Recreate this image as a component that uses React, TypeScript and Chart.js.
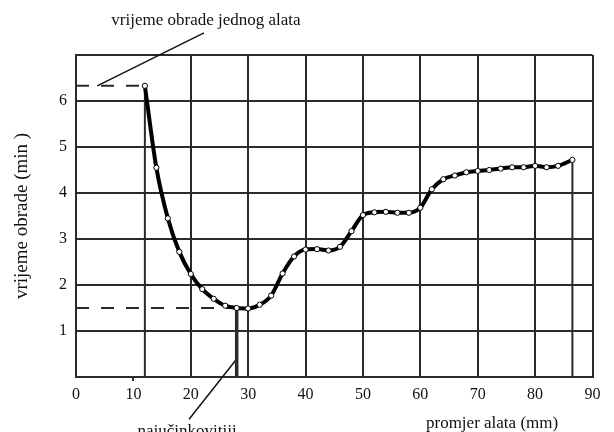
import React, { useEffect, useRef } from "react";
import { Chart, registerables } from "chart.js";

Chart.register(...registerables);

// Tool diameter (mm) and machining time (min)
const diameters = [12, 14, 16, 18, 20, 22, 24, 26, 28, 30, 32, 34, 36, 38, 40, 42, 44, 46, 48, 50, 52, 54, 56, 58, 60, 62, 64, 66, 68, 70, 72, 74, 76, 78, 80, 82, 84, 86.5];
const times = [6.33, 4.55, 3.45, 2.72, 2.24, 1.91, 1.7, 1.55, 1.5, 1.49, 1.57, 1.77, 2.25, 2.62, 2.77, 2.78, 2.75, 2.83, 3.17, 3.52, 3.58, 3.59, 3.57, 3.57, 3.68, 4.08, 4.3, 4.38, 4.45, 4.48, 4.5, 4.53, 4.56, 4.56, 4.59, 4.56, 4.59, 4.72];

const xTicks = [0, 10, 20, 30, 40, 50, 60, 70, 80, 90];
const yTicks = [0, 1, 2, 3, 4, 5, 6, 7];
const optimumIndex = 8;

// leader lines for the two annotations (in axis units)
const topLeaderX = [3.7, 22.3];
const topLeaderY = [6.33, 7.48];
const bottomLeaderX = [28, 19.7];
const bottomLeaderY = [0.39, -0.92];

const yTitle = "vrijeme obrade (min )";
const xTitle = "promjer alata (mm)";
const topNote = "vrijeme obrade jednog alata";
const bottomNote = "najučinkovitiji";

const FONT = "'Liberation Serif', 'Times New Roman', serif";
const GRID = "#2a2a2a";

export default function App() {
  const ref = useRef<HTMLCanvasElement | null>(null);

  useEffect(() => {
    if (!ref.current) return;
    const first = { x: diameters[0], y: times[0] };
    const opt = { x: diameters[optimumIndex], y: times[optimumIndex] };
    const last = { x: diameters[diameters.length - 1], y: times[times.length - 1] };

    const guide = (data: any[], extra: any = {}) => ({
      type: "line",
      data,
      borderColor: GRID,
      borderWidth: 2,
      pointRadius: 0,
      tension: 0,
      order: 2,
      ...extra,
    });

    const textPlugin = {
      id: "notes",
      afterDraw(chart: any) {
        const { ctx, scales } = chart;
        const x = scales.x;
        const y = scales.y;
        ctx.save();
        ctx.fillStyle = "#111";
        ctx.font = `17px ${FONT}`;
        ctx.textAlign = "center";
        ctx.textBaseline = "alphabetic";
        ctx.fillText(topNote, x.getPixelForValue(topLeaderX[1]) + 2, y.getPixelForValue(topLeaderY[1]) - 8);
        ctx.fillText(bottomNote, x.getPixelForValue(bottomLeaderX[1]) - 2, y.getPixelForValue(bottomLeaderY[1]) + 17);
        ctx.fillText(xTitle, x.getPixelForValue(72.5), 428);
        ctx.restore();
      },
    };

    const chart = new Chart(ref.current, {
      type: "line",
      data: {
        datasets: [
          {
            data: diameters.map((d, i) => ({ x: d, y: times[i] })),
            borderColor: "#000",
            borderWidth: 4,
            pointRadius: 2.6,
            pointBackgroundColor: "#fff",
            pointBorderColor: "#000",
            pointBorderWidth: 1,
            cubicInterpolationMode: "monotone",
            order: 0,
          },
          guide([{ x: 0, y: first.y }, first], { borderDash: [13, 12] }),
          guide([{ x: 0, y: opt.y }, opt], { borderDash: [13, 12] }),
          guide([first, { x: first.x, y: 0 }]),
          guide([opt, { x: opt.x, y: 0 }], { borderWidth: 3.5 }),
          guide([last, { x: last.x, y: 0 }]),
          guide(topLeaderX.map((v, i) => ({ x: v, y: topLeaderY[i] })), { borderWidth: 1.5, clip: false, borderColor: "#111" }),
          guide(bottomLeaderX.map((v, i) => ({ x: v, y: bottomLeaderY[i] })), { borderWidth: 1.5, clip: false, borderColor: "#111" }),
        ] as any,
      },
      options: {
        animation: false,
        responsive: false,
        maintainAspectRatio: false,
        layout: { padding: { top: 55, right: 21.5, left: 0, bottom: 0 } },
        plugins: { legend: { display: false }, tooltip: { enabled: false } },
        scales: {
          x: {
            type: "linear",
            min: 0,
            max: 90,
            afterFit: (s: any) => { s.height = 55; },
            afterBuildTicks: (s: any) => { s.ticks = xTicks.map((v) => ({ value: v })); },
            ticks: { font: { family: FONT, size: 16 }, color: "#111", padding: 4, maxRotation: 0, autoSkip: false },
            grid: {
              color: (c: any) => (c.tick && c.tick.value === 10 ? "rgba(0,0,0,0)" : GRID),
              lineWidth: 2,
              drawTicks: true,
              tickLength: 4,
              tickColor: (c: any) => (c.tick && c.tick.value === 10 ? GRID : "rgba(0,0,0,0)"),
              tickWidth: 2,
            },
            border: { display: true, color: GRID, width: 2 },
          },
          y: {
            type: "linear",
            min: 0,
            max: 7,
            afterFit: (s: any) => { s.width = 76; },
            afterBuildTicks: (s: any) => { s.ticks = yTicks.map((v) => ({ value: v })); },
            ticks: {
              font: { family: FONT, size: 16 },
              color: "#111",
              padding: 9,
              callback: (v: any) => (v === 0 || v === 7 ? "" : String(v)),
            },
            grid: { color: GRID, lineWidth: 2, drawTicks: false, tickLength: 0 },
            border: { display: true, color: GRID, width: 2 },
            title: {
              display: true,
              text: yTitle,
              font: { family: FONT, size: 19 },
              color: "#111",
              padding: { top: 11, bottom: 0 },
            },
          },
        },
      },
      plugins: [textPlugin],
    } as any);
    return () => chart.destroy();
  }, []);

  return (
    <div style={{ position: "fixed", left: 0, top: 0, width: 614, height: 432, background: "#fff" }}>
      <canvas ref={ref} width={614} height={432} style={{ display: "block" }} />
    </div>
  );
}
